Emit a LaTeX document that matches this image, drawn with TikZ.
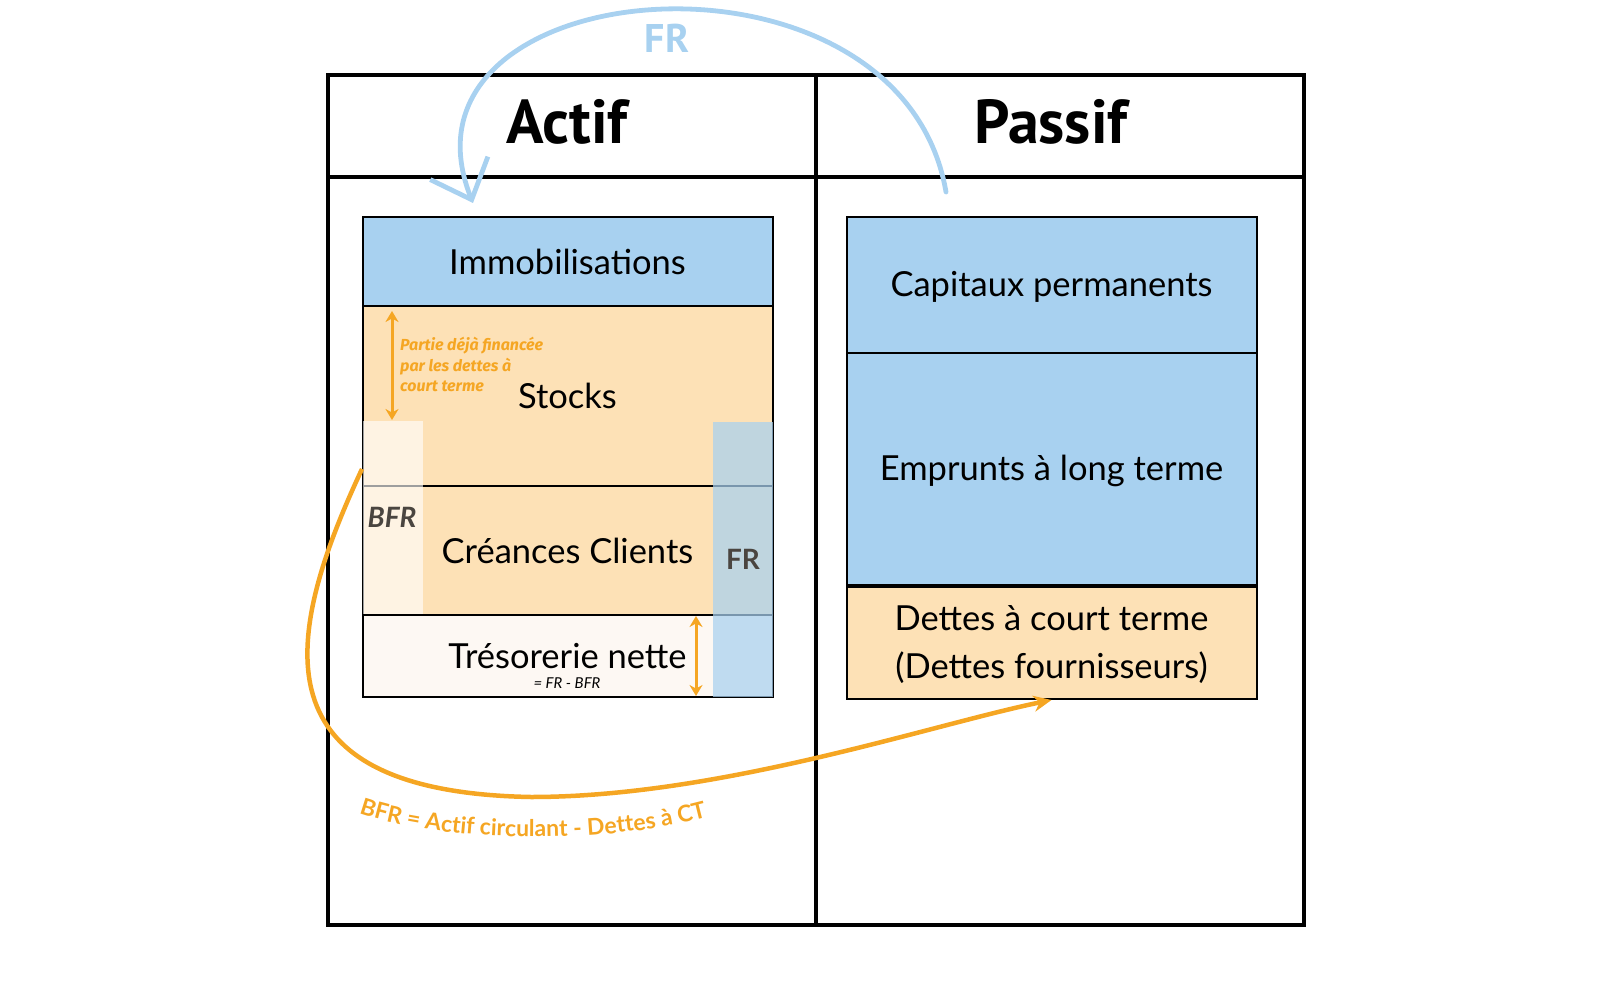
\documentclass[tikz,border=0pt]{standalone}
\usepackage{fontspec}
\setmainfont{Lato}
\newfontfamily\dinfont{PT Sans}
\newfontfamily\notefont{Fira Sans}
\usepackage{xcolor}
\definecolor{Col1}{RGB}{168,209,240}
\definecolor{Col2}{RGB}{253,225,182}
\definecolor{Col3}{RGB}{245,166,35}
\definecolor{Col4}{RGB}{253,248,243}
\definecolor{Col5}{RGB}{74,69,64}
\usepackage{tikz}
\usetikzlibrary{arrows.meta}
\usetikzlibrary{decorations.text}
\tikzstyle{Frame}=[draw=black,line width=4.7pt]
\tikzstyle{Title}=[font=\dinfont\bfseries\fontsize{62}{70}\selectfont]
\tikzstyle{Box}=[rectangle,draw=black,line width=2pt,minimum width=410pt,
inner sep=0pt,align=center,font=\fontsize{34.5}{48}\selectfont]
\tikzstyle{Strip}=[rectangle,inner sep=0pt,minimum width=60pt]
\tikzstyle{Tag}=[font=\bfseries\fontsize{28}{32}\selectfont,text=Col5]
\tikzstyle{Note}=[font=\notefont\bfseries\itshape\fontsize{16}{20.5}\selectfont,
text=Col3,align=left,anchor=north west,inner sep=0pt]
\tikzstyle{Edge}=[draw=Col3,line width=4.5pt]
\tikzstyle{SmallEdge}=[draw=Col3,line width=3pt,
{Stealth[length=11pt,width=13pt]}-{Stealth[length=11pt,width=13pt]}]
\tikzstyle{BlueEdge}=[draw=Col1,line width=4.8pt,line cap=round]

\begin{document}
\begin{tikzpicture}[x=1pt,y=-1pt]
        \useasboundingbox (0,0) rectangle (1600,1000);
        \draw[Frame] (328,75) rectangle (1304,925);
        \draw[Frame] (328,177) -- (1304,177);
        \draw[Frame] (816,75) -- (816,925);
        \node[Title](actif)at(567,122){Actif};
        \node[Title](passif)at(1051,122){Passif};
        \node[Box,fill=Col1,minimum height=89pt](immo)at(567.5,261.5)
            {Immobilisations};
        \node[Box,fill=Col2,minimum height=180pt](stocks)at(567.5,396)
            {Stocks};
        \node[Box,fill=Col2,minimum height=129pt](creances)at(567.5,550.5)
            {Créances Clients};
        \node[Box,fill=Col4,minimum height=82pt](treso)at(567.5,656)
            {Trésorerie nette};
        \node[font=\itshape\fontsize{15}{18}\selectfont](tresoeq)at(567,683)
            {= FR - BFR};
        \node[Box,fill=Col1,minimum height=136pt,text depth=3pt](capitaux)
            at(1051.5,285){Capitaux permanents};
        \node[Box,fill=Col1,minimum height=232pt,text depth=3pt](emprunts)
            at(1051.5,469){Emprunts à long terme};
        \node[Box,fill=Col2,minimum height=112pt,text depth=3pt](dettes)
            at(1051.5,643){Dettes à court terme\\(Dettes fournisseurs)};
        \node[Strip,fill=white,fill opacity=.62,minimum height=193pt]
            (bfrstrip)at(392.5,517.5){};
        \node[Strip,fill=Col1,fill opacity=.72,minimum height=275.5pt]
            (frstrip)at(742.5,559.25){};
        \node[Tag,font=\bfseries\itshape\fontsize{28}{32}\selectfont](bfr)
            at(392,517){BFR};
        \node[Tag](fr)at(743,559){FR};
        \node[Note](part)at(400,337){Partie déjà financée\\par les dettes à\\
            court terme};
        \coordinate(p1)at(392,311);
        \coordinate(p2)at(392,420);
        \draw[SmallEdge](p1)--(p2);
        \coordinate(t1)at(696,616);
        \coordinate(t2)at(696,696);
        \draw[SmallEdge](t1)--(t2);
        \coordinate(bfrS)at(362,469);
        \coordinate(bfrM)at(531,797);
        \draw[Edge,-{Stealth[length=18pt,width=16pt]}](bfrS)
            ..controls(282,640)and(255,792)..(bfrM)
            ..controls(720,797)and(930,725)..(dettes.south);
        \coordinate(lab1)at(358,813);
        \coordinate(lab2)at(708,817);
        \path[decorate,decoration={text along path,text align=center,
            text={|\bfseries\fontsize{23}{28}\selectfont\color{Col3}|BFR = Actif circulant - Dettes à CT}}]
            (lab1)..controls(440,842)and(600,846)..(lab2);
        \coordinate(frS)at(946,192);
        \coordinate(frE)at(473,203);
        \draw[BlueEdge,-{Straight Barb[length=34pt,width=62pt]}](frS)
            ..controls(900,-75)and(380,-30)..(frE);
        \node[font=\dinfont\bfseries\fontsize{40}{44}\selectfont,text=Col1](frlab)
            at(667,38){FR};
    \end{tikzpicture}
\end{document}
